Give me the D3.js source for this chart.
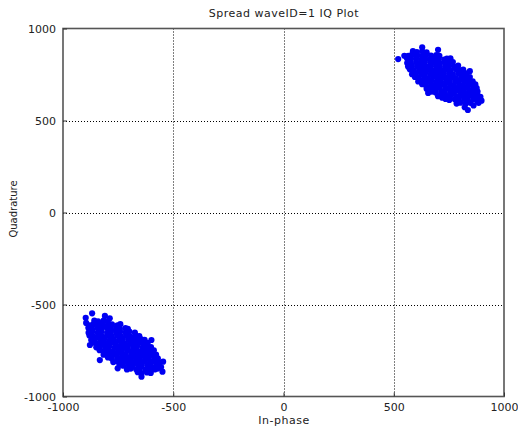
<!DOCTYPE html>
<html><head><meta charset="utf-8">
<script src="https://cdn.jsdelivr.net/npm/d3@7"></script>
<style>body{margin:0;background:#fff}svg{display:block}</style>
</head><body>
<svg id="c" width="518" height="426"></svg>
<script>
const title = "Spread waveID=1 IQ Plot";
const xLabel = "In-phase";
const yLabel = "Quadrature";
const xTicks = [-1000, -500, 0, 500, 1000];
const yTicks = [-1000, -500, 0, 500, 1000];
const gridX = [-500, 0, 500];
const gridY = [-500, 0, 500];

// Upper-right constellation cluster [I, Q]
const clusterUpper = [
[587,877],[605,872],[629,876],[649,871],
[566,852],[583,858],[607,854],[631,851],[646,857],[669,853],[693,856],[707,851],
[560,838],[577,833],[601,837],[625,831],[640,836],[663,832],[687,838],[704,834],[729,831],[741,837],
[561,812],[578,818],[604,814],[621,811],[641,817],[667,813],[684,816],[708,811],[730,817],[746,813],[768,818],
[565,793],[582,798],[606,792],[629,797],[645,794],[668,799],[692,793],[708,797],[733,791],[751,796],[775,792],[792,798],
[573,778],[590,772],[616,776],[633,771],[657,777],[674,773],[699,778],[717,772],[741,776],[758,771],[784,777],[800,773],[815,776],
[583,752],[600,757],[625,753],[643,758],[667,751],[684,756],[709,752],[726,757],[751,754],[768,751],[793,757],[811,753],[830,756],
[596,737],[613,732],[638,736],[655,731],[680,738],[697,733],[722,737],[739,732],[764,736],[781,731],[806,738],[823,733],[845,736],
[611,712],[628,717],[653,713],[670,718],[695,711],[712,716],[737,712],[754,717],[779,713],[796,718],[821,711],[838,716],[858,713],
[629,697],[646,692],[671,696],[688,691],[713,698],[730,693],[755,697],[772,692],[797,696],[814,691],[839,698],[856,693],[870,696],
[649,672],[666,677],[691,673],[708,678],[733,671],[750,676],[775,672],[792,677],[817,673],[834,678],[859,671],[876,676],
[673,657],[690,652],[715,656],[732,651],[757,658],[774,653],[799,657],[816,652],[841,656],[858,651],[880,657],
[701,632],[718,637],[743,633],[760,638],[785,631],[802,636],[827,632],[844,637],[869,633],[881,636],
[735,617],[752,612],[777,616],[794,611],[819,618],[836,613],[861,617],[875,612],
[785,592],[802,597],[827,593],[848,596],
[596,864],[640,846],[688,826],[737,804],[780,784],[620,764],[704,766],[760,744],[812,726],[640,704],[700,684],[760,664],[820,644],[720,624],[790,604],
[520,834],[629,898],[701,884],[757,838],[845,768],[893,629],[822,572],[656,650],[898,608],[836,557],[548,852],[885,596],[862,582]
];

// Lower-left constellation cluster [I, Q]
const clusterLower = [
[-858,-587],[-841,-592],[-816,-588],[-797,-593],
[-879,-613],[-862,-607],[-837,-611],[-820,-606],[-795,-612],[-778,-608],[-753,-613],[-740,-607],
[-885,-627],[-868,-632],[-843,-628],[-826,-633],[-801,-626],[-784,-631],[-759,-627],[-742,-632],[-717,-628],[-706,-633],
[-884,-653],[-867,-648],[-842,-652],[-825,-647],[-800,-654],[-783,-649],[-758,-653],[-741,-648],[-716,-652],[-699,-647],[-674,-653],
[-880,-668],[-863,-673],[-838,-669],[-821,-674],[-796,-667],[-779,-672],[-754,-668],[-737,-673],[-712,-669],[-695,-674],[-670,-667],[-654,-672],
[-872,-693],[-855,-688],[-830,-692],[-813,-687],[-788,-694],[-771,-689],[-746,-693],[-729,-688],[-704,-692],[-687,-687],[-662,-694],[-645,-689],[-630,-692],
[-862,-708],[-845,-713],[-820,-709],[-803,-714],[-778,-707],[-761,-712],[-736,-708],[-719,-713],[-694,-709],[-677,-714],[-652,-707],[-635,-712],[-616,-709],
[-849,-733],[-832,-728],[-807,-732],[-790,-727],[-765,-734],[-748,-729],[-723,-733],[-706,-728],[-681,-732],[-664,-727],[-639,-734],[-622,-729],[-601,-732],
[-834,-748],[-817,-753],[-792,-749],[-775,-754],[-750,-747],[-733,-752],[-708,-748],[-691,-753],[-666,-749],[-649,-754],[-624,-747],[-607,-752],[-588,-749],
[-816,-773],[-799,-768],[-774,-772],[-757,-767],[-732,-774],[-715,-769],[-690,-773],[-673,-768],[-648,-772],[-631,-767],[-606,-774],[-589,-769],[-578,-772],
[-796,-788],[-779,-793],[-754,-789],[-737,-794],[-712,-787],[-695,-792],[-670,-788],[-653,-793],[-628,-789],[-611,-794],[-586,-787],[-570,-792],
[-772,-813],[-755,-808],[-730,-812],[-713,-807],[-688,-814],[-671,-809],[-646,-813],[-629,-808],[-604,-812],[-587,-807],[-566,-813],
[-744,-828],[-727,-833],[-702,-829],[-685,-834],[-660,-827],[-643,-832],[-618,-828],[-601,-833],[-576,-829],[-565,-832],
[-710,-853],[-693,-848],[-668,-852],[-651,-847],[-626,-854],[-609,-849],[-584,-853],[-571,-848],
[-661,-868],[-644,-873],[-619,-869],[-602,-872],
[-850,-600],[-806,-620],[-760,-640],[-712,-660],[-852,-680],[-790,-700],[-730,-720],[-670,-700],[-800,-740],[-740,-760],[-680,-780],[-620,-760],[-720,-800],[-650,-820],[-600,-840],
[-868,-548],[-897,-572],[-810,-562],[-788,-575],[-878,-720],[-599,-693],[-546,-811],[-549,-865],[-644,-892],[-752,-847],[-833,-802],[-895,-600],[-555,-840]
];

const svg = d3.select("#c");
const font = "DejaVu Sans, Verdana, sans-serif";
const pL = 63, pR = 504, pT = 28.5, pB = 396.5;
const x = d3.scaleLinear().domain([-1000, 1000]).range([pL, pR]);
const y = d3.scaleLinear().domain([-1000, 1000]).range([pB, pT]);

// grid
const g = svg.append("g");
g.selectAll("line.gx").data(gridX).join("line")
  .attr("x1", d => Math.round(x(d)) + 0.5).attr("x2", d => Math.round(x(d)) + 0.5)
  .attr("y1", pT).attr("y2", pB)
  .attr("stroke", "#000").attr("stroke-width", 1).attr("stroke-dasharray", "1,2");
g.selectAll("line.gy").data(gridY).join("line")
  .attr("y1", d => Math.round(y(d)) + 0.5).attr("y2", d => Math.round(y(d)) + 0.5)
  .attr("x1", pL).attr("x2", pR)
  .attr("stroke", "#000").attr("stroke-width", 1).attr("stroke-dasharray", "1,2");

// points
const pts = svg.append("g").attr("fill", "#0000f2");
pts.selectAll("circle.u").data(clusterUpper).join("circle")
  .attr("cx", d => x(d[0])).attr("cy", d => y(d[1])).attr("r", 3.1);
pts.selectAll("circle.l").data(clusterLower).join("circle")
  .attr("cx", d => x(d[0])).attr("cy", d => y(d[1])).attr("r", 3.1);

// frame
svg.append("rect").attr("x", pL).attr("y", pT)
  .attr("width", pR - pL).attr("height", pB - pT)
  .attr("fill", "none").attr("stroke", "#555").attr("stroke-width", 1.6);

// axes
const fmt = d => String(d);
const xAxis = svg.append("g").attr("transform", `translate(0,${pB})`)
  .call(d3.axisBottom(x).tickValues(xTicks).tickSize(-4).tickPadding(7).tickFormat(fmt));
const yAxis = svg.append("g").attr("transform", `translate(${pL},0)`)
  .call(d3.axisLeft(y).tickValues(yTicks).tickSize(-4).tickPadding(7).tickFormat(fmt));
[xAxis, yAxis].forEach(a => {
  a.select(".domain").remove();
  a.selectAll(".tick line").attr("stroke", "#333");
  a.selectAll("text").attr("font-family", font).attr("font-size", 11).attr("fill", "#222");
});

svg.append("text").attr("x", 284).attr("y", 17).attr("text-anchor", "middle")
  .attr("font-family", font).attr("font-size", 11).attr("letter-spacing", 0.5).attr("fill", "#222").text(title);
svg.append("text").attr("x", 284).attr("y", 424).attr("text-anchor", "middle")
  .attr("font-family", font).attr("font-size", 11).attr("letter-spacing", 0.5).attr("fill", "#222").text(xLabel);
svg.append("text").attr("transform", "translate(17,209) rotate(-90)").attr("text-anchor", "middle")
  .attr("font-family", font).attr("font-size", 10).attr("fill", "#222").text(yLabel);
</script>
</body></html>
